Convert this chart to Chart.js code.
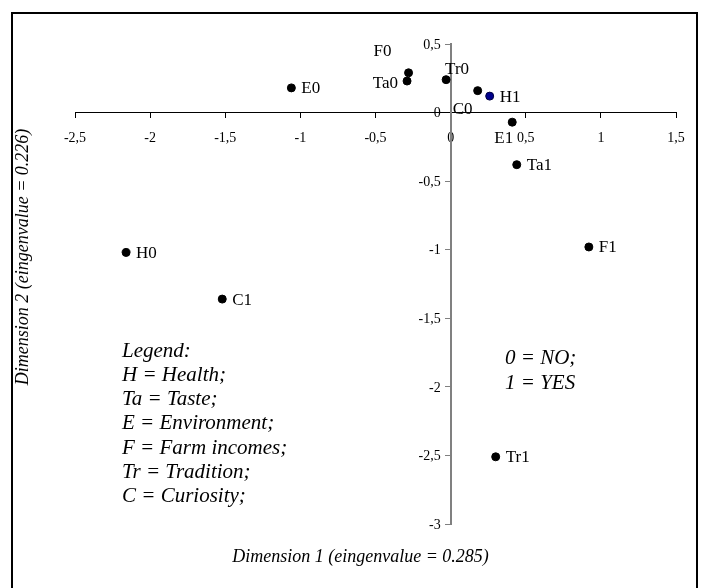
<!DOCTYPE html>
<html>
<head>
<meta charset="utf-8">
<script src="https://cdn.jsdelivr.net/npm/chart.js@4/dist/chart.umd.min.js"></script>
<style>
  html, body { margin: 0; padding: 0; background: #fff; }
  #wrap { width: 706px; height: 588px; }
</style>
</head>
<body>
<div id="wrap"><canvas id="chart" width="706" height="588"></canvas></div>
<script>
// Correspondence analysis map: category coordinates on the first two dimensions

const labels = ['E0', 'F0', 'Ta0', 'Tr0', 'C0', 'H1', 'E1', 'Ta1', 'F1', 'H0', 'C1', 'Tr1'];
const dim1 = [-1.06, -0.28, -0.29, -0.03, 0.18, 0.26, 0.41, 0.44, 0.92, -2.16, -1.52, 0.30];
const dim2 = [0.18, 0.29, 0.23, 0.24, 0.16, 0.12, -0.07, -0.38, -0.98, -1.02, -1.36, -2.51];

const xTitle = 'Dimension 1 (eingenvalue = 0.285)';
const yTitle = 'Dimension 2 (eingenvalue = 0.226)';
const legendLines = ['Legend:', 'H = Health;', 'Ta = Taste;', 'E = Environment;', 'F = Farm incomes;', 'Tr = Tradition;', 'C = Curiosity;'];
const codeLines = ['0 = NO;', '1 = YES'];

const SERIF = '"Liberation Serif", "Times New Roman", serif';

// where a point label sits relative to its dot (default: right of the dot)
const labelPlacement = {
  F0: { align: 'right', dx: -17, dy: -22 },
  Ta0: { align: 'right', dx: -9, dy: 2 },
  Tr0: { align: 'left', dx: -1, dy: -11 },
  C0: { align: 'left', dx: -25, dy: 18 },
  E1: { align: 'right', dx: 1, dy: 15 },
};

const commaTick = v => String(v).replace('.', ',');

const annotations = {
  id: 'annotations',
  afterDatasetsDraw(chart) {
    const ctx = chart.ctx;
    const meta = chart.getDatasetMeta(0);
    ctx.save();
    ctx.fillStyle = '#000';
    ctx.font = '17px ' + SERIF;
    ctx.textBaseline = 'middle';
    meta.data.forEach((pt, i) => {
      const p = labelPlacement[labels[i]] || { align: 'left', dx: 10, dy: 0 };
      ctx.textAlign = p.align;
      ctx.fillText(labels[i], pt.x + p.dx, pt.y + p.dy + 1);
    });
    ctx.restore();
  },
  afterDraw(chart) {
    const ctx = chart.ctx;
    const area = chart.chartArea;
    const xs = chart.scales.x;
    const ys = chart.scales.y;
    ctx.save();

    // outer frame
    ctx.strokeStyle = '#000';
    ctx.lineWidth = 2;
    ctx.strokeRect(12, 13, 685, 580);

    ctx.fillStyle = '#000';
    ctx.textBaseline = 'middle';

    // y tick labels, set off to the left of the crossing axis
    ctx.font = '14px ' + SERIF;
    ctx.textAlign = 'right';
    const axisX = xs.getPixelForValue(0);
    ys.ticks.forEach(t => ctx.fillText(commaTick(t.value), axisX - 10, ys.getPixelForValue(t.value) + 1));

    // axis titles
    ctx.font = 'italic 18px ' + SERIF;
    ctx.textAlign = 'center';
    ctx.fillText(xTitle, (area.left + area.right) / 2 - 15, 557);

    ctx.save();
    ctx.translate(23, 257);
    ctx.rotate(-Math.PI / 2);
    ctx.fillText(yTitle, 0, 0);
    ctx.restore();

    // legend text block
    ctx.font = 'italic 21px ' + SERIF;
    ctx.textAlign = 'left';
    legendLines.forEach((t, i) => ctx.fillText(t, 122, 351 + i * 24.3));
    codeLines.forEach((t, i) => ctx.fillText(t, 505, 358 + i * 25));

    ctx.restore();
  }
};

new Chart(document.getElementById('chart'), {
  type: 'scatter',
  data: {
    datasets: [{
      label: 'Categories',
      data: labels.map((l, i) => ({ x: dim1[i], y: dim2[i] })),
      pointRadius: 4,
      pointHoverRadius: 4,
      pointBackgroundColor: labels.map(l => (l === 'H1' ? '#00008c' : '#000')),
      pointBorderColor: labels.map(l => (l === 'H1' ? '#000040' : '#000')),
      pointBorderWidth: 1,
    }],
  },
  options: {
    responsive: false,
    animation: false,
    events: [],
    layout: { padding: { left: 75, right: 30, top: 44, bottom: 64 } },
    plugins: {
      legend: { display: false },
      tooltip: { enabled: false },
    },
    scales: {
      x: {
        type: 'linear',
        position: { y: 0 },
        min: -2.5,
        max: 1.5,
        ticks: {
          stepSize: 0.5,
          color: '#000',
          padding: 12,
          maxRotation: 0,
          autoSkip: false,
          font: { family: SERIF, size: 14 },
          callback: commaTick,
        },
        grid: { drawOnChartArea: false, drawTicks: true, tickLength: 5, color: '#000' },
        border: { display: true, color: '#000', width: 1 },
      },
      y: {
        type: 'linear',
        position: { x: 0 },
        min: -3,
        max: 0.5,
        ticks: {
          display: false,
          stepSize: 0.5,
          autoSkip: false,
          font: { family: SERIF, size: 14 },
        },
        grid: { drawOnChartArea: false, drawTicks: true, tickLength: 5, color: '#808080' },
        border: { display: true, color: '#808080', width: 2 },
      },
    },
  },
  plugins: [annotations],
});
</script>
</body>
</html>
